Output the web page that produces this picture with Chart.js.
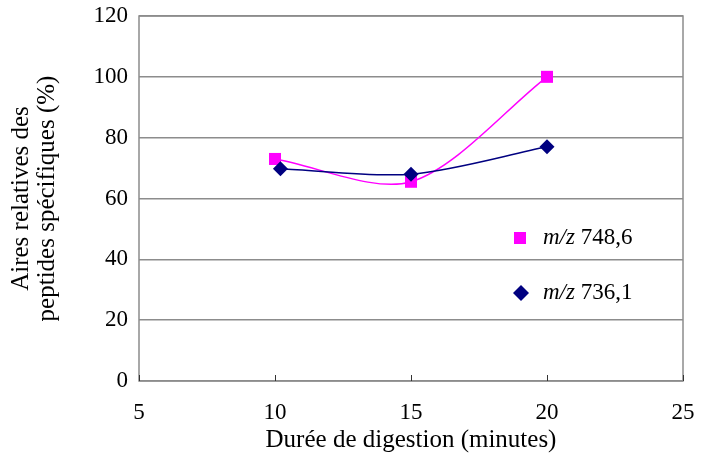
<!DOCTYPE html>
<html>
<head>
<meta charset="utf-8">
<script src="https://cdn.jsdelivr.net/npm/chart.js@4/dist/chart.umd.min.js"></script>
<style>
  html, body { margin: 0; padding: 0; background: #fff; }
  #wrap { width: 705px; height: 455px; }
</style>
</head>
<body>
<div id="wrap"><canvas id="chart" width="705" height="455"></canvas></div>
<script>
// Data
const seriesNames = ['748,6', '736,1'];
const xPink = [10, 15, 20];
const yPink = [73, 65.5, 100];
const xNavy = [10.2, 15, 20];
const yNavy = [69.8, 68, 77];
const yTicks = [0, 20, 40, 60, 80, 100, 120];
const xTicks = [5, 10, 15, 20, 25];

const PINK = '#ff00ff';
const NAVY = '#000080';
const FONT = "'Liberation Serif', 'Times New Roman', serif";

const toPoints = (xs, ys) => xs.map((x, i) => ({ x: x, y: ys[i] }));

// Plot frame, inward x tick marks and the legend drawn on top of the canvas
const framePlugin = {
    id: 'frame',
    beforeDatasetsDraw(chart) {
        const { ctx, chartArea: a, scales } = chart;
        ctx.save();
        ctx.strokeStyle = '#8c8c8c';
        ctx.lineWidth = 1.5;
        ctx.strokeRect(a.left, a.top, a.right - a.left, a.bottom - a.top);
        ctx.lineWidth = 1;
        ctx.strokeStyle = '#333';
        xTicks.forEach(v => {
            const px = Math.round(scales.x.getPixelForValue(v)) + 0.5;
            ctx.beginPath();
            ctx.moveTo(px, a.bottom);
            ctx.lineTo(px, a.bottom - 6);
            ctx.stroke();
        });
        ctx.restore();
    },
    afterDraw(chart) {
        const { ctx } = chart;
        ctx.save();
        // pink square
        ctx.fillStyle = PINK;
        ctx.fillRect(514, 232, 12, 12);
        // navy diamond
        ctx.fillStyle = NAVY;
        ctx.beginPath();
        ctx.moveTo(521, 285);
        ctx.lineTo(529, 293);
        ctx.lineTo(521, 301);
        ctx.lineTo(513, 293);
        ctx.closePath();
        ctx.fill();
        ctx.fillStyle = '#000';
        ctx.textBaseline = 'middle';
        [[238, seriesNames[0]], [293, seriesNames[1]]].forEach(([y, name]) => {
            ctx.font = 'italic 23px ' + FONT;
            ctx.fillText('m/z', 543, y);
            const w = ctx.measureText('m/z').width;
            ctx.font = '23px ' + FONT;
            ctx.fillText(' ' + name, 543 + w, y);
        });
        ctx.restore();
    }
};

new Chart(document.getElementById('chart').getContext('2d'), {
    type: 'line',
    data: {
        datasets: [
            {
                label: 'm/z ' + seriesNames[1],
                data: toPoints(xNavy, yNavy),
                borderColor: NAVY,
                backgroundColor: NAVY,
                borderWidth: 1.5,
                pointStyle: 'rectRot',
                pointRadius: 7.5,
                pointBorderWidth: 0,
                tension: 0.3,
                order: 0
            },
            {
                label: 'm/z ' + seriesNames[0],
                data: toPoints(xPink, yPink),
                borderColor: PINK,
                backgroundColor: PINK,
                borderWidth: 1.5,
                pointStyle: 'rect',
                pointRadius: 8.5,
                pointBorderWidth: 0,
                tension: 0.3,
                order: 1
            }
        ]
    },
    options: {
        responsive: false,
        animation: false,
        layout: { padding: { top: 16, right: 22, left: 0, bottom: 0 } },
        plugins: {
            legend: { display: false },
            tooltip: { enabled: false }
        },
        scales: {
            x: {
                type: 'linear',
                min: 5,
                max: 25,
                afterBuildTicks: s => { s.ticks = xTicks.map(v => ({ value: v })); },
                afterFit: s => { s.height = 74; s.paddingLeft = 0; s.paddingRight = 0; },
                grid: { display: false },
                border: { display: false },
                ticks: { color: '#000', font: { family: FONT, size: 23 }, padding: 10, maxRotation: 0 },
                title: {
                    display: true,
                    text: 'Durée de digestion (minutes)',
                    color: '#000',
                    font: { family: FONT, size: 25 },
                    padding: { top: 0, bottom: 0 }
                }
            },
            y: {
                min: 0,
                max: 120,
                afterBuildTicks: s => { s.ticks = yTicks.map(v => ({ value: v })); },
                afterFit: s => { s.width = 139; s.paddingTop = 0; s.paddingBottom = 0; },
                grid: { color: '#8c8c8c', lineWidth: 1.5, drawTicks: false },
                border: { display: false },
                ticks: { color: '#000', font: { family: FONT, size: 23 }, padding: 11 },
                title: {
                    display: true,
                    text: ['Aires relatives des', 'peptides spécifiques (%)'],
                    color: '#000',
                    font: { family: FONT, size: 25, lineHeight: 1.05 },
                    padding: { top: 8, bottom: 0 }
                }
            }
        }
    },
    plugins: [framePlugin]
});
</script>
</body>
</html>
